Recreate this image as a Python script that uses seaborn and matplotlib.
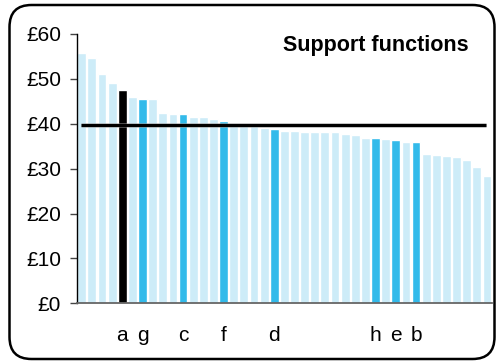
import matplotlib
matplotlib.use("Agg")
import matplotlib.pyplot as plt
import matplotlib.patheffects as pe
from matplotlib.patches import FancyBboxPatch
from matplotlib.transforms import IdentityTransform
import numpy as np
import pandas as pd
import seaborn as sns

# Cost per head for support functions, sorted high to low
values = [55.8, 54.7, 51.1, 49.1, 47.6, 46.0, 45.4, 45.4, 42.5, 42.2,
          42.2, 41.6, 41.6, 41.0, 40.5, 40.2, 39.7, 39.6, 39.1, 38.8,
          38.4, 38.4, 38.2, 38.2, 38.2, 38.2, 37.8, 37.5, 36.9, 36.8,
          36.7, 36.4, 35.9, 35.9, 33.3, 33.0, 32.8, 32.6, 31.9, 30.4,
          28.4]
# Highlighted organisations: bar index -> letter
labelled_pos = [4, 6, 10, 14, 19, 29, 31, 33]
labelled_txt = ["a", "g", "c", "f", "d", "h", "e", "b"]
focus_letter = "a"
average = 39.7
title = "Support functions"
yticks = [0, 10, 20, 30, 40, 50, 60]
ytick_labels = ["£0", "£10", "£20", "£30", "£40", "£50", "£60"]

LIGHT = "#CDECF8"
MID = "#33BAEA"
DARK = "#000000"

groups = []
for i in range(len(values)):
    if i in labelled_pos:
        letter = labelled_txt[labelled_pos.index(i)]
        groups.append("focus" if letter == focus_letter else "peer")
    else:
        groups.append("other")

df = pd.DataFrame({"pos": list(range(len(values))), "value": values, "group": groups})

sns.set_theme(style="white")
plt.rcParams["font.family"] = ["Liberation Sans", "DejaVu Sans"]

fig = plt.figure(figsize=(4.96, 3.61), dpi=100)
ax = fig.add_axes([0.1546, 0.1598, 0.992 - 0.1546, 0.906 - 0.1598])

sns.barplot(data=df, x="pos", y="value", hue="group",
            palette={"other": LIGHT, "peer": MID, "focus": DARK},
            dodge=False, width=0.87, saturation=1, legend=False, ax=ax)

ax.hlines(average, -0.1, 39.95, color="black", linewidth=2.2, zorder=5,
          path_effects=[pe.Stroke(linewidth=3.4, foreground="#9a9a9a", alpha=0.6), pe.Normal()])

ax.set_xlim(-0.5, len(values) - 0.5)
ax.set_ylim(0, 60)
ax.set_yticks(yticks)
ax.set_yticklabels(ytick_labels)
ax.set_xticks(labelled_pos)
ax.set_xticklabels(labelled_txt)
ax.set_xlabel("")
ax.set_ylabel("")

ax.tick_params(axis="y", left=True, length=4.8, width=1.0, color="#444444",
               labelsize=15, pad=6.5, labelcolor="black")
ax.tick_params(axis="x", bottom=False, length=0, labelsize=15, pad=16.5, labelcolor="black")

for side in ["top", "right"]:
    ax.spines[side].set_visible(False)
ax.spines["left"].set_color("black")
ax.spines["left"].set_linewidth(1.0)
ax.spines["bottom"].set_color("#666666")
ax.spines["bottom"].set_linewidth(1.3)
ax.spines["bottom"].set_zorder(6)

ax.text(0.943, 0.995, title, transform=ax.transAxes, ha="right", va="top",
        fontsize=15.5, fontweight="bold", color="black")

# Rounded frame around the whole panel
frame = FancyBboxPatch((9.5, 2.0), 485.0, 354.0,
                       boxstyle="round,pad=0,rounding_size=22",
                       transform=IdentityTransform(), fill=False,
                       edgecolor="black", linewidth=1.8)
fig.patches.append(frame)

fig.savefig("out.png", dpi=100)
